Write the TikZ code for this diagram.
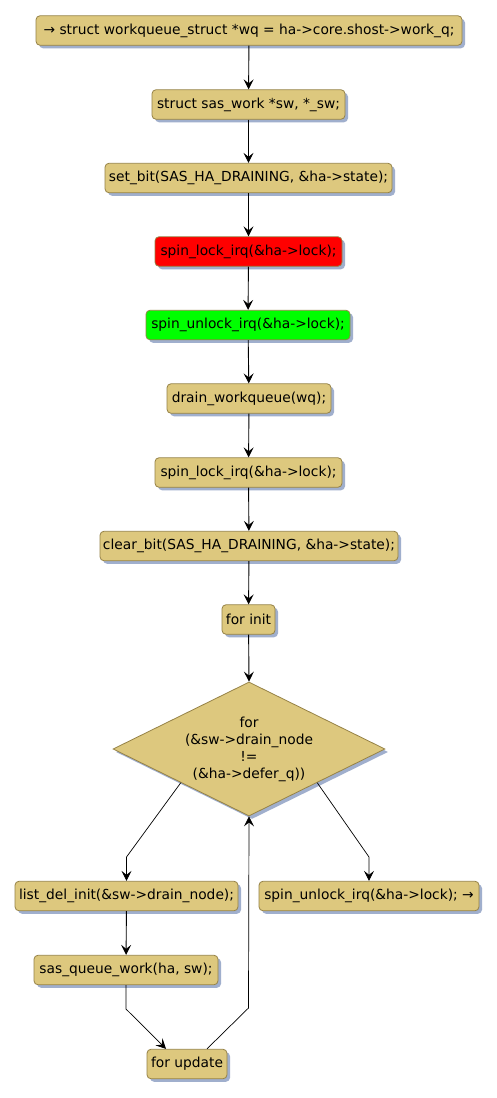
\documentclass[tikz,border=0pt]{standalone}
\usepackage{fontspec}
\setmainfont{DejaVu Sans}
\usetikzlibrary{shapes.geometric,shadows,arrows.meta}
\definecolor{boxfill}{RGB}{221,200,126}
\definecolor{boxline}{RGB}{150,130,70}
\definecolor{shadowc}{RGB}{160,175,205}
\begin{document}
\begin{tikzpicture}[x=1pt,y=1pt,
  act/.style={draw=boxline, fill=boxfill, line width=0.8pt, rounded corners=4pt,
    minimum height=29.5pt, inner xsep=2.5pt, inner ysep=0pt, font=\fontsize{13.8}{16}\selectfont,
    drop shadow={shadow xshift=3pt, shadow yshift=-3pt, fill=shadowc, opacity=1}},
  flow/.style={line width=0.9pt, -{Stealth[length=10pt,width=10pt,inset=4pt]}},
  thin/.style={line width=0.7pt}]
\useasboundingbox (0,0) rectangle (497,-1098);
\fill[white] (0,0) rectangle (497,-1098);

\node[act, minimum width=426pt] (n1) at (249,-30.5) {→ struct workqueue\_struct *wq = ha->core.shost->work\_q;};
\node[act, minimum width=193pt] (n2) at (248.5,-104.5) {struct sas\_work *sw, *\_sw;};
\node[act, minimum width=287pt] (n3) at (248.5,-178) {set\_bit(SAS\_HA\_DRAINING, \&ha->state);};
\node[act, minimum width=187pt, fill=red] (n4) at (248.5,-251.5) {spin\_lock\_irq(\&ha->lock);};
\node[act, minimum width=204pt, fill=green] (n5) at (248,-325) {spin\_unlock\_irq(\&ha->lock);};
\node[act, minimum width=164pt] (n6) at (249,-398.5) {drain\_workqueue(wq);};
\node[act, minimum width=187pt] (n7) at (248.5,-472.5) {spin\_lock\_irq(\&ha->lock);};
\node[act, minimum width=298pt] (n8) at (249,-546) {clear\_bit(SAS\_HA\_DRAINING, \&ha->state);};
\node[act, minimum width=53pt] (n9) at (248.5,-619.5) {for init};

\node[diamond, draw=boxline, fill=boxfill, line width=0.8pt, minimum width=272pt, minimum height=134pt, inner sep=0pt,
  drop shadow={shadow xshift=3pt, shadow yshift=-3pt, fill=shadowc, opacity=1}] (d) at (249,-749) {};
\node[align=center, font=\fontsize{13.8}{17}\selectfont] (dt) at (249,-749) {for\\(\&sw->drain\_node\\!=\\(\&ha->defer\_q))};

\node[act, minimum width=223pt] (ldi) at (126.5,-896) {list\_del\_init(\&sw->drain\_node);};
\node[act, minimum width=220pt] (sui) at (369,-896) {spin\_unlock\_irq(\&ha->lock); →};
\node[act, minimum width=184pt] (sqw) at (126,-970) {sas\_queue\_work(ha, sw);};
\node[act, minimum width=80pt] (fu) at (187,-1064) {for update};

\draw[flow] (n1) -- (n2);
\draw[flow] (n2) -- (n3);
\draw[flow] (n3) -- (n4);
\draw[flow] (n4) -- (n5);
\draw[flow] (n5) -- (n6);
\draw[flow] (n6) -- (n7);
\draw[flow] (n7) -- (n8);
\draw[flow] (n8) -- (n9);
\draw[flow] (n9) -- (d.north);

\coordinate (kl) at (126.5,-857);
\coordinate (kr) at (369,-857);
\draw[flow, thin] (d.south west) -- (kl) -- (ldi.north);
\draw[flow, thin] (d.south east) -- (kr) -- (sui.north);
\draw[flow] (ldi) -- (sqw);
\coordinate (ka) at (126,-1009);
\draw[flow, thin] (sqw.south) -- (ka) -- ([xshift=-21pt]fu.north);
\coordinate (kb) at (248.5,-1008);
\draw[flow, thin] ([xshift=20pt]fu.north) -- (kb) -- (d.south);
\end{tikzpicture}
\end{document}
